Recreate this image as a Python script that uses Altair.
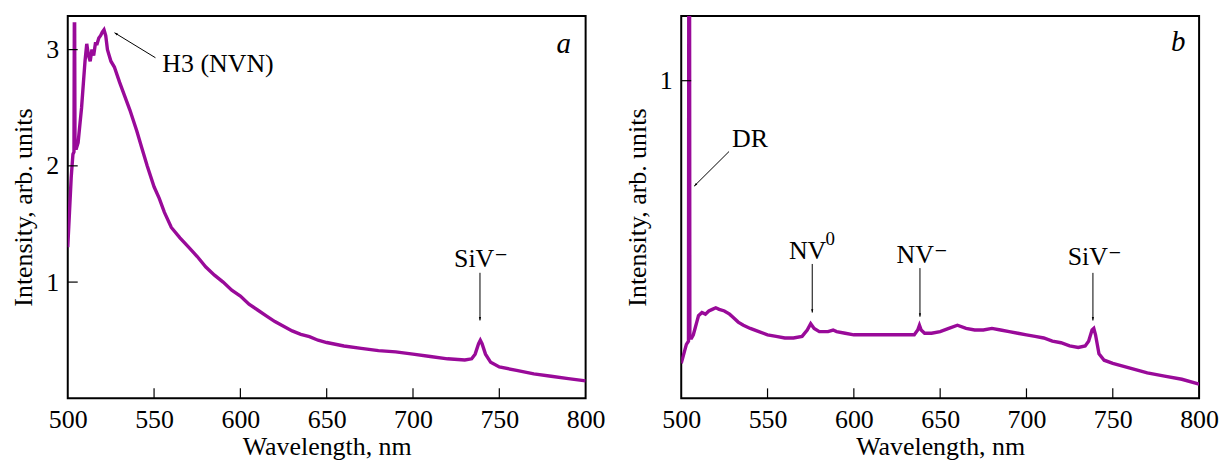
import altair as alt
import pandas as pd

# ---------------- data ----------------
wl_a = [500, 501, 502, 503, 503.6, 503.8, 504.0, 504.2, 505, 506, 507, 508, 509, 510, 511, 512, 513, 514,
        515, 516, 517, 518, 519, 520, 521, 522, 523, 524, 525, 527, 530, 533, 536, 540, 543, 546, 550,
        553, 556, 560, 565, 570, 575, 580, 585, 590, 595, 600, 605, 610, 615, 620, 625, 630, 635, 640,
        645, 650, 660, 670, 680, 690, 700, 710, 720, 730, 734, 736, 738, 739, 740, 742, 745, 750, 760,
        770, 780, 790, 800]
int_a = [1.30, 1.60, 1.90, 2.10, 2.12, 3.22, 3.22, 2.15, 2.15, 2.20, 2.35, 2.50, 2.70, 2.90, 3.05, 2.95,
         2.90, 3.00, 2.95, 3.05, 3.05, 3.10, 3.12, 3.15, 3.17, 3.12, 3.00, 2.95, 2.90, 2.85, 2.72, 2.60,
         2.48, 2.30, 2.15, 2.00, 1.82, 1.72, 1.60, 1.47, 1.38, 1.30, 1.22, 1.13, 1.06, 1.00, 0.93, 0.88,
         0.81, 0.76, 0.71, 0.66, 0.62, 0.58, 0.55, 0.53, 0.50, 0.48, 0.45, 0.43, 0.41, 0.40, 0.38, 0.36,
         0.34, 0.33, 0.34, 0.38, 0.47, 0.50, 0.47, 0.38, 0.31, 0.27, 0.24, 0.21, 0.19, 0.17, 0.15]

wl_b = [500, 501, 502, 503, 504.2, 504.4, 504.8, 505, 506, 507, 508, 509, 510, 512, 514, 516, 518, 520,
        522, 525, 528, 530, 533, 536, 540, 545, 550, 555, 560, 565, 570, 573, 575, 577, 580, 585, 588,
        590, 595, 600, 610, 620, 630, 635, 637, 638, 639, 641, 645, 650, 655, 660, 665, 670, 675, 680,
        685, 690, 695, 700, 705, 710, 715, 720, 725, 730, 734, 736, 738, 739, 740, 742, 745, 750, 760,
        770, 780, 790, 800]
int_b = [0.11, 0.13, 0.15, 0.17, 0.18, 1.50, 1.50, 0.19, 0.19, 0.20, 0.22, 0.24, 0.26, 0.27, 0.265, 0.275,
         0.28, 0.285, 0.28, 0.275, 0.265, 0.255, 0.24, 0.23, 0.22, 0.21, 0.20, 0.195, 0.19, 0.19, 0.195,
         0.215, 0.235, 0.22, 0.21, 0.21, 0.215, 0.21, 0.205, 0.20, 0.20, 0.20, 0.20, 0.20, 0.215, 0.23,
         0.215, 0.205, 0.205, 0.21, 0.22, 0.23, 0.22, 0.215, 0.215, 0.22, 0.215, 0.21, 0.205, 0.20, 0.195,
         0.19, 0.18, 0.175, 0.165, 0.16, 0.165, 0.18, 0.215, 0.22, 0.20, 0.14, 0.12, 0.11, 0.095, 0.08,
         0.07, 0.06, 0.045]

x_ticks = [500, 550, 600, 650, 700, 750, 800]
inner_x_ticks = [550, 600, 650, 700, 750]
y_ticks_a = [1, 2, 3]
y_ticks_b = [1]

# annotations: text labels
lab_a_text = ["H3 (NVN)", "SiV⁻"]
lab_a_x = [554.8, 739.4]
lab_a_y = [2.88, 1.20]
lab_a_align = ["left", "center"]

lab_b_text = ["DR", "NV", "NV⁻", "SiV⁻"]
lab_b_x = [539.8, 573.2, 639.5, 739.5]
lab_b_y = [0.815, 0.464, 0.45, 0.445]
lab_b_align = ["center", "center", "center", "center"]

# superscript "0" of NV0
sup_b_text = ["0"]
sup_b_x = [583.6]
sup_b_y = [0.50]

# arrows: start (x, y) -> tip (x2, y2), head angle
arr_a_x = [550.8, 738.8]
arr_a_y = [2.93, 1.08]
arr_a_x2 = [527.1, 738.8]
arr_a_y2 = [3.145, 0.67]
arr_a_ang = [121, 0]

arr_b_x = [527.7, 575.9, 638.3, 738.5]
arr_b_y = [0.777, 0.423, 0.41, 0.395]
arr_b_x2 = [507.5, 575.9, 638.3, 738.5]
arr_b_y2 = [0.668, 0.27, 0.257, 0.245]
arr_b_ang = [45, 0, 0, 0]

panel_letters = ["a", "b"]
letter_x = [787.3, 787.9]
letter_y = [3.05, 1.122]

# ---------------- style ----------------
W, H = 520, 384
PURPLE = "#990a99"
FONT = "Liberation Serif, Times New Roman, DejaVu Serif, serif"
FS = 26
ARROW_PATH = "M0,0 L-0.55,-1.7 L0.55,-1.7 Z"


def panel(wl, vals, ydom, yticks, labels, arrows, letter, ly, sups=None):
    df = pd.DataFrame({"wl": wl, "v": vals})
    xsc = alt.Scale(domain=[500, 800], nice=False, zero=False)
    ysc = alt.Scale(domain=ydom, nice=False, zero=False)
    xenc = alt.X("wl:Q", scale=xsc,
                 axis=alt.Axis(values=x_ticks, ticks=False, grid=False, domain=False,
                               labelPadding=8, title="Wavelength, nm", titlePadding=1,
                               labelFlush=False, format="d"))
    yenc = alt.Y("v:Q", scale=ysc,
                 axis=alt.Axis(values=yticks, ticks=False, grid=False, domain=False,
                               labelPadding=9, title="Intensity, arb. units", titlePadding=9,
                               format="d"))
    line = alt.Chart(df).mark_line(color=PURPLE, strokeWidth=3.4, clip=True).encode(x=xenc, y=yenc)

    xt = pd.DataFrame({"wl": inner_x_ticks})
    xtick = alt.Chart(xt).mark_rule(color="black", strokeWidth=1.2).encode(
        x=alt.X("wl:Q", scale=xsc), y=alt.value(H), y2=alt.value(H - 10))
    yt = pd.DataFrame({"v": yticks})
    ytick = alt.Chart(yt).mark_rule(color="black", strokeWidth=1.2).encode(
        y=alt.Y("v:Q", scale=ysc), x=alt.value(0), x2=alt.value(10))

    ldf = pd.DataFrame(labels)
    layers = [line, xtick, ytick]
    for al in ["left", "center"]:
        sub = ldf[ldf["al"] == al]
        if len(sub):
            layers.append(alt.Chart(sub).mark_text(font=FONT, fontSize=FS, baseline="middle",
                                                   align=al, color="black").encode(
                x=alt.X("x:Q", scale=xsc), y=alt.Y("y:Q", scale=ysc), text="t:N"))
    if sups is not None:
        layers.append(alt.Chart(pd.DataFrame(sups)).mark_text(
            font=FONT, fontSize=19, baseline="middle", align="left", color="black").encode(
            x=alt.X("x:Q", scale=xsc), y=alt.Y("y:Q", scale=ysc), text="t:N"))

    adf = pd.DataFrame(arrows)
    shaft = alt.Chart(adf).mark_rule(color="black", strokeWidth=1).encode(
        x=alt.X("x:Q", scale=xsc), y=alt.Y("y:Q", scale=ysc), x2="x2:Q", y2="y2:Q")
    head = alt.Chart(adf).mark_point(shape=ARROW_PATH, filled=True, color="black", size=16,
                                     opacity=1).encode(
        x=alt.X("x2:Q", scale=xsc), y=alt.Y("y2:Q", scale=ysc), angle=alt.Angle("ang:Q", scale=None))

    let = alt.Chart(pd.DataFrame({"x": [letter[1]], "y": [ly], "t": [letter[0]]})).mark_text(
        font=FONT, fontSize=29, fontStyle="italic", baseline="middle", align="center", color="black"
    ).encode(x=alt.X("x:Q", scale=xsc), y=alt.Y("y:Q", scale=ysc), text="t:N")

    layers += [shaft, head, let]
    return alt.layer(*layers).properties(width=W, height=H)


pa = panel(wl_a, int_a, [0, 3.29], y_ticks_a,
           {"x": lab_a_x, "y": lab_a_y, "t": lab_a_text, "al": lab_a_align},
           {"x": arr_a_x, "y": arr_a_y, "x2": arr_a_x2, "y2": arr_a_y2, "ang": arr_a_ang},
           (panel_letters[0], letter_x[0]), letter_y[0])
pb = panel(wl_b, int_b, [0, 1.204], y_ticks_b,
           {"x": lab_b_x, "y": lab_b_y, "t": lab_b_text, "al": lab_b_align},
           {"x": arr_b_x, "y": arr_b_y, "x2": arr_b_x2, "y2": arr_b_y2, "ang": arr_b_ang},
           (panel_letters[1], letter_x[1]), letter_y[1],
           sups={"x": sup_b_x, "y": sup_b_y, "t": sup_b_text})

chart = alt.hconcat(pa, pb, spacing=96, bounds="flush").properties(
    padding={"left": 2, "top": 6, "right": 2, "bottom": 0}, background="white"
).configure_view(stroke="black", strokeWidth=2).configure_axis(
    labelFont=FONT, labelFontSize=FS, labelColor="black",
    titleFont=FONT, titleFontSize=FS, titleColor="black", titleFontWeight="normal"
)

chart.save("out.html", embed_options={"renderer": "svg", "actions": False})
